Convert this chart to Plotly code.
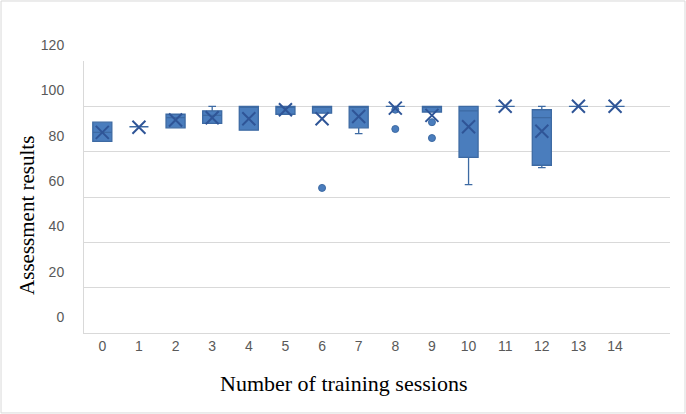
import plotly.graph_objects as go

sessions = list(range(15))
q1 = [84.5, 91, 90.5, 92.5, 89.5, 96.5, 97, 90.5, 100, 97.5, 77.5, 100, 74, 100, 100]
median = [88.5, 91, 95, 96, 100, 100, 100, 100, 100, 100, 98, 100, 95, 100, 100]
q3 = [93, 91, 96.5, 98, 100, 100, 100, 100, 100, 100, 100, 100, 98.5, 100, 100]
lower = [84.5, 91, 90.5, 92.5, 89.5, 96.5, 97, 88, 100, 97.5, 65.5, 100, 73, 100, 100]
upper = [93, 91, 96.5, 100, 100, 100, 100, 100, 100, 100, 100, 100, 100, 100, 100]
means = [88.5, 90.8, 94, 95, 94.5, 98.5, 94.5, 95.5, 99.2, 96, 91, 100, 89, 100, 100]
outlier_x = [6, 8, 8, 9, 9]
outlier_y = [64, 98.5, 90, 93, 86]
y_ticks = [0, 20, 40, 60, 80, 100, 120]
x_title = "Number of training sessions"
y_title = "Assessment results"

fill = "#4a7dbd"
edge = "#3d6aa3"
dark = "#2f5597"

fig = go.Figure()
fig.add_trace(go.Box(
    x=sessions, q1=q1, median=median, q3=q3,
    lowerfence=lower, upperfence=upper,
    width=0.52, whiskerwidth=0.4,
    fillcolor=fill, line=dict(color=edge, width=1.3),
    boxpoints=False, showlegend=False, hoverinfo="skip",
))
fig.add_trace(go.Scatter(
    x=outlier_x, y=outlier_y, mode="markers",
    marker=dict(symbol="circle", size=7, color=fill, line=dict(color=edge, width=1)),
    showlegend=False, hoverinfo="skip",
))
fig.add_trace(go.Scatter(
    x=sessions, y=means, mode="markers",
    marker=dict(symbol="x-thin", size=13, line=dict(color=dark, width=2)),
    showlegend=False, hoverinfo="skip",
))

title_font = dict(family="Liberation Serif", size=22, color="black")
fig.update_layout(
    width=686, height=414,
    margin=dict(l=84, r=16, t=61, b=81),
    paper_bgcolor="white", plot_bgcolor="white",
    font=dict(family="Liberation Sans", size=14, color="#595959"),
    shapes=[dict(type="rect", xref="paper", yref="paper",
                 x0=-0.1416, x1=1.0256, y0=-0.294, y1=1.2206,
                 line=dict(color="#d9d9d9", width=1), layer="below")],
    annotations=[
        dict(text=x_title, xref="paper", yref="paper", x=0.442, y=-0.184,
             xanchor="center", yanchor="middle", showarrow=False, font=title_font),
        dict(text=y_title, xref="paper", yref="paper", x=-0.0973, y=0.434,
             xanchor="center", yanchor="middle", textangle=-90, showarrow=False,
             font=dict(family="Liberation Serif", size=21, color="black")),
    ],
)
fig.update_xaxes(
    range=[-0.5, 15.5], tickvals=sessions, ticktext=[str(s) for s in sessions],
    showgrid=False, zeroline=False, showline=True, linecolor="#d9d9d9", linewidth=1,
    ticks="", tickfont=dict(size=14, color="#595959"),
)
fig.update_yaxes(
    range=[0, 120], tickvals=y_ticks, ticktext=[str(v) for v in y_ticks],
    showgrid=True, gridcolor="#d9d9d9", gridwidth=1, zeroline=False,
    showline=True, linecolor="#d9d9d9", linewidth=1,
    ticks="", ticklabelshift=-16, ticklabelstandoff=16,
    tickfont=dict(size=14, color="#595959"),
)

fig.write_html("out.html")
